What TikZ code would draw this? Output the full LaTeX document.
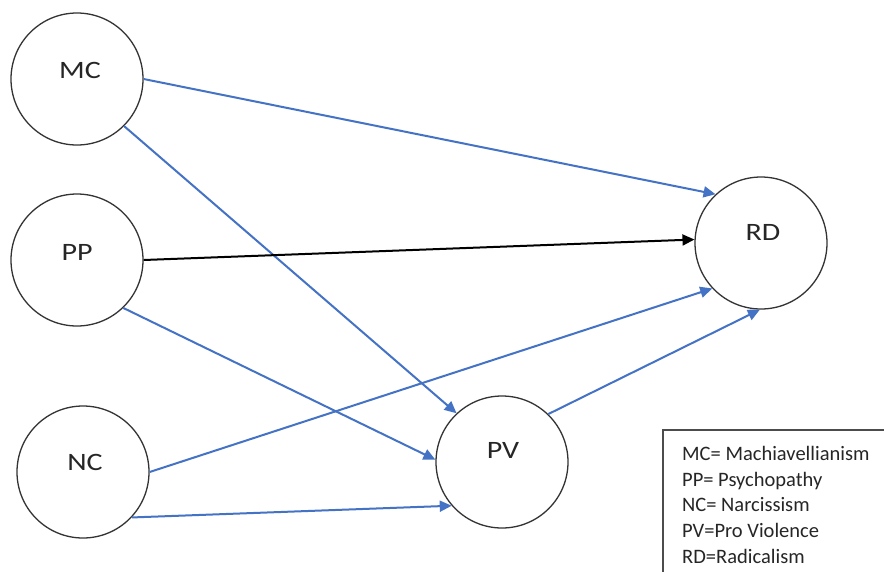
\documentclass[tikz,border=0pt]{standalone}
\usepackage{fontspec}
\setmainfont{Carlito}
\usetikzlibrary{arrows.meta}
\definecolor{ablue}{HTML}{4472C4}
\begin{document}
\begin{tikzpicture}[x=1pt,y=-1pt,
 circ/.style={circle,draw=black!80,line width=1.3pt,minimum size=132pt,inner sep=0pt},
 lbl/.style={font=\fontsize{25}{30}\selectfont,text=black!85,inner sep=0pt},
 conn/.style={draw=ablue,line width=2pt,-{Triangle[length=12pt,width=11pt]}},
 leg/.style={font=\fontsize{20.5}{24}\selectfont,text=black!85,anchor=base west,inner sep=0pt}]
\useasboundingbox (0,0) rectangle (884,571);
\clip (0,0) rectangle (884,571);
\fill[white] (0,0) rectangle (884,571);
% circles
\node[circ] (MC) at (77,79) {};
\node[circ] (PP) at (77,260) {};
\node[circ] (NC) at (83,472) {};
\node[circ] (PV) at (502,462) {};
\node[circ] (RD) at (761,243) {};
% labels
\node[lbl] (MCt) at (80,70) {\scalebox{1.2}[1]{MC}};
\node[lbl] (PPt) at (77,252) {\scalebox{1.2}[1]{PP}};
\node[lbl] (NCt) at (85,462) {\scalebox{1.2}[1]{NC}};
\node[lbl] (PVt) at (503,450) {\scalebox{1.2}[1]{PV}};
\node[lbl] (RDt) at (763,232) {\scalebox{1.2}[1]{RD}};
% connectors
\draw[conn] (MC.0) -- (RD.133);
\draw[conn] (MC.-45) -- (PV.133);
\draw[conn,draw=black] (PP.0) -- (RD.177);
\draw[conn] (PP.-46) -- (PV.178);
\draw[conn] (NC.0) -- (RD.-137);
\draw[conn] (NC.-43) -- (PV.-139);
\draw[conn] (PV.46) -- (RD.-91);
% legend
\node[draw=black!70,line width=1.5pt,anchor=north west,minimum width=235pt,minimum height=160pt,inner sep=0pt] (legend) at (662,429) {};
\node[leg] (l1) at (682,460) {MC= Machiavellianism};
\node[leg] (l2) at (682,486) {PP= Psychopathy};
\node[leg] (l3) at (682,511.5) {NC= Narcissism};
\node[leg] (l4) at (682,537) {PV=Pro Violence};
\node[leg] (l5) at (682,563) {RD=Radicalism};
\end{tikzpicture}
\end{document}
